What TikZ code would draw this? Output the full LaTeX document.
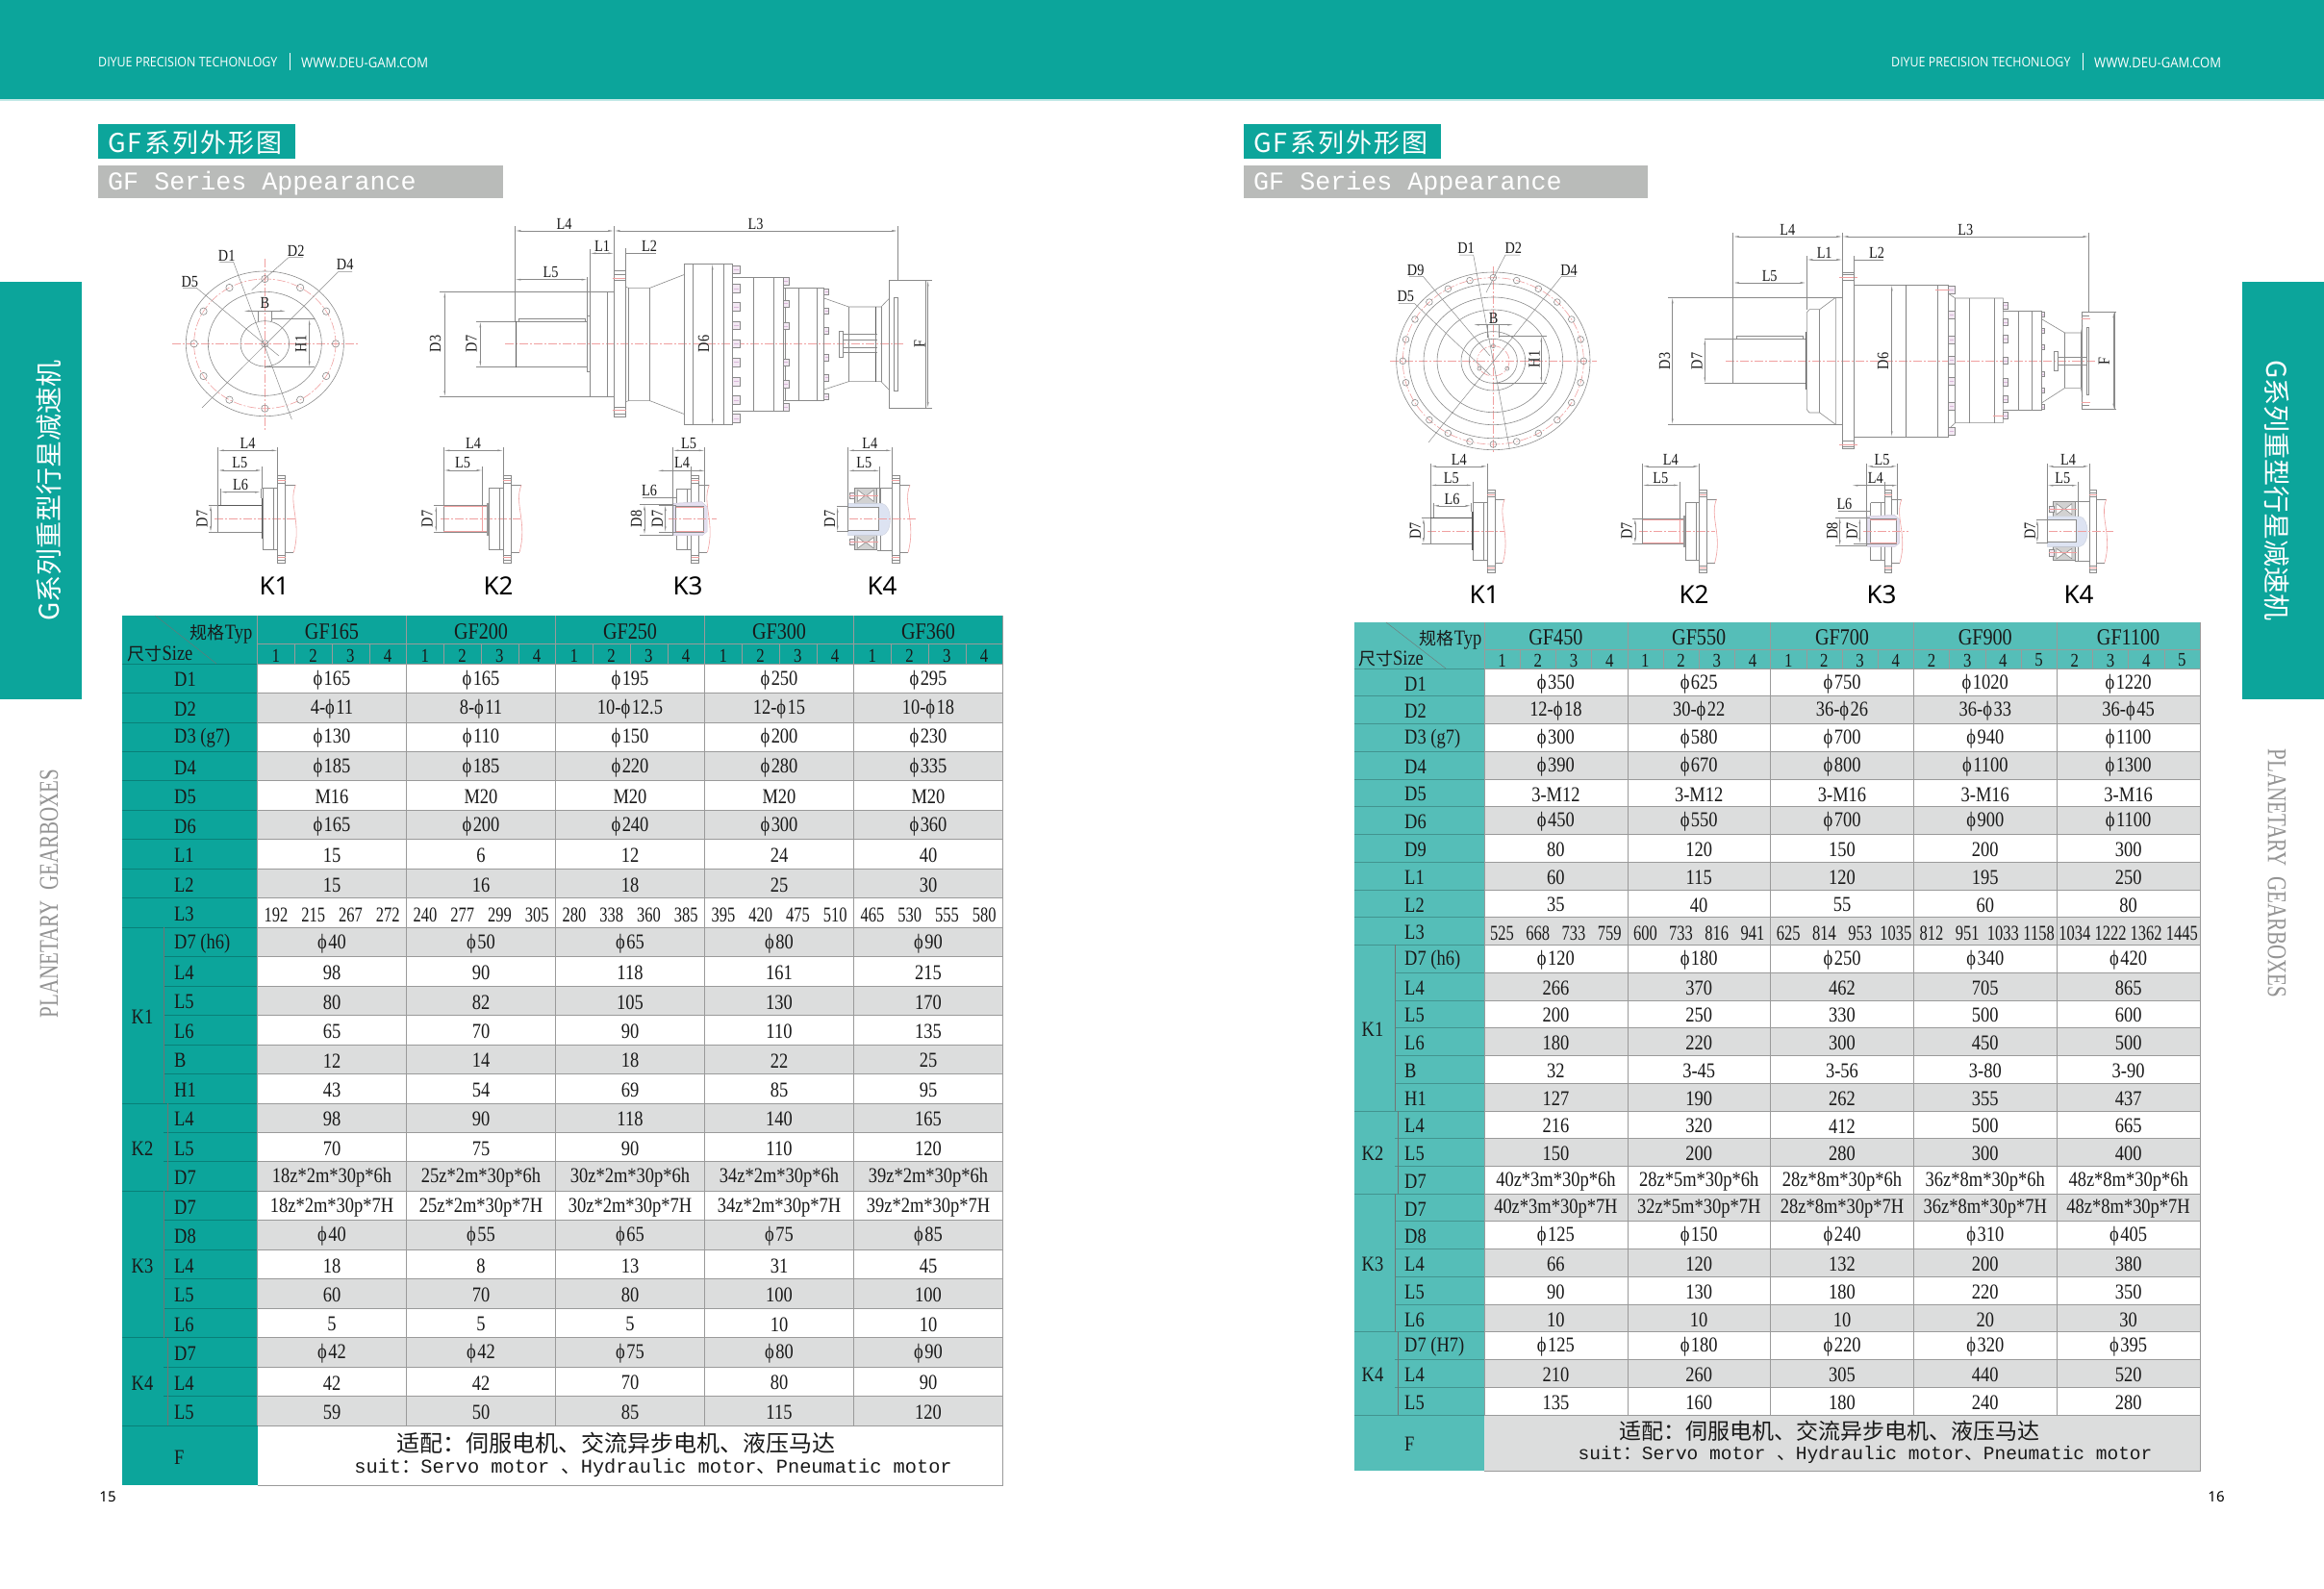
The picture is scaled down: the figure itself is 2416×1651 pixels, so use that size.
\documentclass[tikz,border=0pt]{standalone}
\usepackage{fontspec}
\setmainfont{Liberation Serif}
\newfontfamily\narrowf[FakeStretch=0.84]{Liberation Serif}
\newfontfamily\tightf[FakeStretch=0.75]{Liberation Serif}
\newfontfamily\cjkf{Noto Sans CJK SC}
\newfontfamily\cjkwide[LetterSpace=8]{Noto Sans CJK SC}
\newfontfamily\monof{Liberation Mono}
\newfontfamily\bandf[FakeStretch=0.9]{Open Sans}
\newfontfamily\kf{Noto Sans}
\usetikzlibrary{arrows.meta}
\newcommand{\fsz}[1]{\fontsize{#1}{#1}\selectfont}
\newcommand{\ph}{ϕ\kern1.5pt}
\definecolor{bandteal}{HTML}{0CA59B}
\definecolor{softteal}{HTML}{55BEB8}
\definecolor{cellgray}{HTML}{DCDDDD}
\definecolor{titlegray}{HTML}{B9BBB9}
\definecolor{gridgray}{HTML}{9A9A9A}
\definecolor{partgray}{HTML}{8A8A8A}
\definecolor{axisred}{HTML}{F0A0A0}
\definecolor{boltpink}{HTML}{F3E8F3}
\definecolor{boltmark}{HTML}{D9B8D9}
\definecolor{sleevelilac}{HTML}{E4DFF0}
\definecolor{sleeveblue}{HTML}{DDE3F2}
\tikzset{
  part/.style={draw=partgray,line width=.6pt},
  heavy/.style={draw=black!65,line width=1pt},
  axisline/.style={draw=axisred,line width=.5pt,dash pattern=on 9pt off 2pt on 2pt off 2pt},
  redmark/.style={draw=axisred,line width=.6pt},
  lead/.style={draw=partgray,line width=.5pt},
  dimline/.style={draw=partgray,line width=.5pt,{Latex[length=6pt,width=1.8pt]}-{Latex[length=6pt,width=1.8pt]}},
  dimtext/.style={font=\narrowf\fsz{17},inner sep=0pt,text=black!90},
  boltbox/.style={draw=partgray,fill=boltpink,line width=.4pt},
  cell/.style={font=\narrowf\fsz{22},inner sep=0pt,yshift=-1.5pt,text=black!90},
  tinycell/.style={font=\tightf\fsz{22},inner sep=0pt,text=black!90},
  rowlab/.style={font=\narrowf\fsz{22},inner sep=0pt,yshift=-1.5pt,anchor=west,text=black!90},
  klab/.style={font=\kf\fsz{26},inner sep=0pt,text=black},
  sidetext/.style={font=\cjkf\fsz{28},inner sep=0pt,text=white},
  sidegray/.style={font=\tightf\fsz{28},inner sep=0pt,text=gray!85},
  bandtext/.style={font=\bandf\fsz{14.5},inner sep=0pt,anchor=west,text=white},
}
\newcommand{\bolts}[4]{\foreach \by in {#4} {
    \draw[boltbox] (#1,\by-#3) rectangle (#2,\by+#3);
    \draw[draw=boltmark,line width=.6pt] (#1+3,\by)--(#2-3,\by);
  }}
\newcommand{\gfrows}[1]{
  \foreach \lab/\va/\vb/\vc/\vd/\ve [count=\ri from 0] in {#1} {
    \ifodd\ri\relax
      \fill[cellgray] (\tabxv,{\tabyt+\ri*\tabrh}) rectangle ({\tabxv+5*\tabcw},{\tabyt+(\ri+1)*\tabrh});
    \fi
    \node[rowlab] (lab\ri) at (\tablx,{\tabyt+(\ri+.5)*\tabrh}) {\lab};
    \foreach \cellv [count=\ci from 0] in {\va,\vb,\vc,\vd,\ve}
      \node[cell] (val\ri c\ci) at ({\tabxv+(\ci+.5)*\tabcw},{\tabyt+(\ri+.5)*\tabrh}) {\cellv};
  }
}
\newcommand{\gfgrid}[3]{
  \foreach \ri in {0,...,#1} {
    \draw[gridgray,line width=.7pt] (\tabxv,{\tabyt+\ri*\tabrh}) -- ({\tabxv+5*\tabcw},{\tabyt+\ri*\tabrh});
    \draw[black,draw opacity=.22,line width=.7pt] (\tabxk,{\tabyt+\ri*\tabrh}) -- (\tabxv,{\tabyt+\ri*\tabrh});
  }
  \foreach \ri in {#2}
    \draw[black,draw opacity=.22,line width=.7pt] (\tabxl,{\tabyt+\ri*\tabrh}) -- (\tabxk,{\tabyt+\ri*\tabrh});
  \foreach \ci in {0,...,5}
    \draw[gridgray,line width=.4pt] ({\tabxv+\ci*\tabcw},\tabhy) -- ({\tabxv+\ci*\tabcw},{\tabyt+#1*\tabrh});
  \foreach \ci in {0,...,19}
    \draw[gridgray,line width=.4pt] ({\tabxv+\ci*\tabcw/4},\tabhm) -- ({\tabxv+\ci*\tabcw/4},\tabyt);
  \draw[gridgray,line width=.7pt] (\tabxv,\tabhm) -- ({\tabxv+5*\tabcw},\tabhm);
  \draw[gridgray,line width=.4pt] ({\tabxv+5*\tabcw},\tabhy) -- ({\tabxv+5*\tabcw},#3) -- (\tabxv,#3);
}
\newcommand{\kflange}[1]{
  \draw[part] (#1,163) rectangle (#1+24,435);
  \draw[part] (#1,172)--(#1+24,172) (#1,186)--(#1+24,186) (#1,412)--(#1+24,412) (#1,426)--(#1+24,426);
  \draw[redmark] (#1,179)--(#1+24,179) (#1,419)--(#1+24,419);
  \draw[part] (#1+24,193)--(#1+56,193) (#1+24,403)--(#1+50,403);
  \draw[redmark] (#1+56,193) .. controls (#1+32,250) and (#1+76,310) .. (#1+50,403);
}
\newcommand{\kone}{
  \draw[axisline] (100,298)--(350,298);
  \draw[part] (110,255) rectangle (247,340);
  \draw[heavy] (110,255)--(247,255);
  \draw[part] (250,203)--(297,203) (250,395)--(297,395) (250,203)--(250,395) (283,203)--(283,395);
  \draw[heavy,line width=1.4pt] (248,235)--(248,360);
  \kflange{296}
  \draw[lead] (110,75)--(110,255) (296,75)--(296,163) (247,135)--(247,203) (118,205)--(118,255) (243,205)--(243,235);
  \draw[lead] (80,255)--(110,255) (80,340)--(110,340);
  \draw[dimline] (110,85)--(296,85);
  \draw[dimline] (110,147)--(247,147);
  \draw[dimline] (118,215)--(243,215);
  \draw[dimline] (87,255)--(87,340);
  \node[dimtext] (konelfour) at (203,62) {L4};
  \node[dimtext] (konelfive) at (178,123) {L5};
  \node[dimtext] (konelsix) at (180,193) {L6};
  \node[dimtext,rotate=90] (konedseven) at (60,298) {D7};
}
\newcommand{\ktwo}{
  \draw[axisline] (804,298)--(1052,298);
  \draw[part] (814,257) rectangle (948,340);
  \draw[redmark] (814,260)--(948,260) (814,337)--(948,337) (935,260)--(935,337);
  \draw[part] (955,203)--(1001,203) (955,395)--(1001,395) (955,203)--(955,395) (988,203)--(988,395);
  \draw[heavy,line width=2pt,draw=gray!80] (952,248)--(952,352);
  \kflange{1000}
  \draw[lead] (814,75)--(814,257) (1000,75)--(1000,163) (935,135)--(935,257);
  \draw[lead] (782,257)--(814,257) (782,340)--(814,340);
  \draw[dimline] (814,85)--(1000,85);
  \draw[dimline] (814,147)--(935,147);
  \draw[dimline] (790,257)--(790,340);
  \node[dimtext] (ktwolfour) at (906,62) {L4};
  \node[dimtext] (ktwolfive) at (873,123) {L5};
  \node[dimtext,rotate=90] (ktwodseven) at (762,298) {D7};
}
\newcommand{\kthree}{
  \draw[part] (250,205)--(296,205) (250,395)--(296,395) (250,205)--(250,248) (250,350)--(250,395) (283,205)--(283,248) (283,350)--(283,395);
  \kflange{296}
  \draw[draw=sleevelilac!80!gray,fill=sleevelilac,line width=.5pt] (240,250)--(328,245)--(345,260)--(345,338)--(330,350)--(240,350)--cycle;
  \draw[part,fill=white] (248,258)--(335,258)--(335,340)--(248,340)--cycle;
  \draw[redmark] (248,262)--(335,262) (248,336)--(335,336);
  \draw[axisline] (225,298)--(375,298);
  \draw[lead] (238,75)--(238,350) (338,75)--(338,245) (295,135)--(295,163);
  \draw[lead] (135,253)--(240,253) (135,348)--(240,348) (195,255)--(248,255) (195,340)--(248,340);
  \draw[lead] (145,232)--(250,232);
  \draw[dimline] (238,85)--(338,85);
  \draw[dimline] (190,148)--(340,148);
  \draw[dimline] (150,253)--(150,348);
  \draw[dimline] (215,255)--(215,340);
  \node[dimtext] (kthreelfive) at (288,62) {L5};
  \node[dimtext] (kthreelfour) at (267,123) {L4};
  \node[dimtext] (kthreelsix) at (165,210) {L6};
  \node[dimtext,rotate=90] (kthreedeight) at (125,298) {D8};
  \node[dimtext,rotate=90] (kthreedseven) at (190,298) {D7};
}
\newcommand{\kfour}{
  \draw[part] (875,202)--(922,202) (875,397)--(922,397) (885,202)--(885,397);
  \kflange{922}
  \draw[part,fill=gray!35] (805,202) rectangle (875,250);
  \draw[part,fill=gray!35] (805,350) rectangle (875,395);
  \draw[part,fill=white] (815,208)--(838,226)--(815,244)--cycle (865,208)--(842,226)--(865,244)--cycle;
  \draw[part,fill=white] (815,356)--(838,373)--(815,390)--cycle (865,356)--(842,373)--(865,390)--cycle;
  \draw[draw=sleeveblue!85!gray,fill=sleeveblue,line width=.5pt] (785,250)--(890,250) .. controls (925,255) and (925,345) .. (890,350)--(785,350)--cycle;
  \draw[part,fill=white] (785,262)--(880,262)--(880,335)--(785,335)--cycle;
  \draw[boltbox] (790,217) rectangle (805,235);
  \draw[boltbox] (790,360) rectangle (805,380);
  \draw[redmark] (790,226)--(880,226) (790,370)--(880,370);
  \draw[axisline] (790,298)--(1000,298);
  \draw[lead] (785,75)--(785,340) (922,75)--(922,163) (884,135)--(884,250);
  \draw[lead] (750,260)--(785,260) (750,338)--(785,338);
  \draw[dimline] (785,85)--(922,85);
  \draw[dimline] (785,148)--(884,148);
  \draw[dimline] (752,260)--(752,338);
  \node[dimtext] (kfourlfour) at (853,62) {L4};
  \node[dimtext] (kfourlfive) at (835,123) {L5};
  \node[dimtext,rotate=90] (kfourdseven) at (728,298) {D7};
}
\begin{document}
\begin{tikzpicture}[x=1pt,y=-1pt]
  \useasboundingbox (0,0) rectangle (2416,1651);
  \fill[white] (0,0) rectangle (2416,1651);

  \fill[bandteal] (0,0) rectangle (2416,103);
  \fill[bandteal!25] (0,103) rectangle (2416,105);
  \node[bandtext,font=\bandf\fsz{13.8}] (companyl) at (102,65) {DIYUE PRECISION TECHONLOGY};
  \draw[white,line width=.5pt] (301,55) -- (301,73);
  \node[bandtext] (webl) at (313,65) {WWW.DEU-GAM.COM};
  \node[bandtext,font=\bandf\fsz{13.8}] (companyr) at (1966,65) {DIYUE PRECISION TECHONLOGY};
  \draw[white,line width=.5pt] (2165,55) -- (2165,73);
  \node[bandtext] (webr) at (2177,65) {WWW.DEU-GAM.COM};

  \foreach \tx/\bx/\bxx/\gxx in {112/102/307/523,1303/1293/1498/1713} {
    \fill[bandteal] (\bx,129) rectangle (\bxx,165);
    \fill[titlegray] (\bx,172) rectangle (\gxx,206);
    \node[font=\cjkwide\fsz{27},text=white,anchor=west,inner sep=0pt] (title\bx) at (\tx,148) {GF系列外形图};
    \node[font=\monof\fsz{26.7},text=white,anchor=west,inner sep=0pt] (sub\bx) at (\tx,191) {GF Series Appearance};
  }

  \fill[bandteal] (0,293) rectangle (85,727);
  \fill[bandteal] (2331,293) rectangle (2416,727);
  \node[sidetext,rotate=90] (sidel) at (51,510) {G系列重型行星减速机};
  \node[sidetext,rotate=-90] (sider) at (2367,510) {G系列重型行星减速机};
  \node[sidegray,rotate=90] (grayl) at (51,929) {PLANETARY\ \ GEARBOXES};
  \node[sidegray,rotate=-90] (grayr) at (2367,908) {PLANETARY\ \ GEARBOXES};
  \node[font=\kf\fsz{15},inner sep=0pt] (pagel) at (112,1556) {15};
  \node[font=\kf\fsz{15},inner sep=0pt] (pager) at (2304,1556) {16};

  \begin{scope}
    \def\tabxl{127}\def\tabxk{170}\def\tablx{181}\def\tabxv{267.5}\def\tabcw{155}
    \def\tabyt{690}\def\tabrh{30.46}\def\tabhy{640}\def\tabhm{669}
    \fill[bandteal] (\tabxl,\tabhy) rectangle ({\tabxv+5*\tabcw},\tabyt);
    \fill[bandteal] (\tabxl,\tabyt) rectangle (\tabxv,1544);
    \gfrows{D1/\ph165/\ph165/\ph195/\ph250/\ph295,
      D2/4-\ph11/8-\ph11/10-\ph12.5/12-\ph15/10-\ph18,
      D3 (g7)/\ph130/\ph110/\ph150/\ph200/\ph230,
      D4/\ph185/\ph185/\ph220/\ph280/\ph335,
      D5/M16/M20/M20/M20/M20,
      D6/\ph165/\ph200/\ph240/\ph300/\ph360,
      L1/15/6/12/24/40,
      L2/15/16/18/25/30,
      L3/~/~/~/~/~,
      D7 (h6)/\ph40/\ph50/\ph65/\ph80/\ph90,
      L4/98/90/118/161/215,
      L5/80/82/105/130/170,
      L6/65/70/90/110/135,
      B/12/14/18/22/25,
      H1/43/54/69/85/95,
      L4/98/90/118/140/165,
      L5/70/75/90/110/120,
      D7/18z*2m*30p*6h/25z*2m*30p*6h/30z*2m*30p*6h/34z*2m*30p*6h/39z*2m*30p*6h,
      D7/18z*2m*30p*7H/25z*2m*30p*7H/30z*2m*30p*7H/34z*2m*30p*7H/39z*2m*30p*7H,
      D8/\ph40/\ph55/\ph65/\ph75/\ph85,
      L4/18/8/13/31/45,
      L5/60/70/80/100/100,
      L6/5/5/5/10/10,
      D7/\ph42/\ph42/\ph75/\ph80/\ph90,
      L4/42/42/70/80/90,
      L5/59/50/85/115/120}
    \foreach \cellv [count=\ci from 0] in {192,215,267,272,240,277,299,305,280,338,360,385,395,420,475,510,465,530,555,580}
      \node[tinycell] (lthree\ci) at ({\tabxv+(\ci+.5)*\tabcw/4},{\tabyt+8.58*\tabrh}) {\cellv};
    \gfgrid{26}{0,...,9,15,18,23,26}{1544}
    \draw[black!55,line width=.4pt] (\tabxk,{\tabyt+9*\tabrh}) -- (\tabxk,{\tabyt+15*\tabrh});
    \draw[black!55,line width=.4pt] (174,{\tabyt+15*\tabrh}) -- (174,{\tabyt+18*\tabrh});
    \draw[black!55,line width=.4pt] (\tabxk,{\tabyt+18*\tabrh}) -- (\tabxk,{\tabyt+23*\tabrh});
    \draw[black!55,line width=.4pt] (174,{\tabyt+23*\tabrh}) -- (174,{\tabyt+26*\tabrh});
    \draw[black!55,line width=.4pt] (161.6,640) -- (225,690);
    \node[cell] (kone) at (148,{\tabyt+12*\tabrh}) {K1};
    \node[cell] (ktwo) at (148,{\tabyt+16.5*\tabrh}) {K2};
    \node[cell] (kthree) at (148,{\tabyt+20.5*\tabrh}) {K3};
    \node[cell] (kfour) at (148,{\tabyt+24.5*\tabrh}) {K4};
    \node[rowlab] (rowf) at (\tablx,1514) {F};
    \node[cell] (typel) at (230,658) {{\cjkf\fsz{18}规格}Typ};
    \node[cell] (sizel) at (166.5,678) {{\cjkf\fsz{18}尺寸}Size};
    \foreach \gfname [count=\ci from 0] in {GF165,GF200,GF250,GF300,GF360}
      \node[cell,font=\narrowf\fsz{24}] (headl\ci) at ({\tabxv+(\ci+.5)*\tabcw},655) {\gfname};
    \foreach \ci in {0,...,19} {
      \pgfmathtruncatemacro\subn{mod(\ci,4)+1}
      \node[cell,font=\narrowf\fsz{20}] (subl\ci) at ({\tabxv+(\ci+.5)*\tabcw/4},680) {\subn};
    }
    \node[font=\cjkf\fsz{24},inner sep=0pt,text=black!90] (fitl) at (640,1500) {适配：伺服电机、交流异步电机、液压马达};
    \node[font=\monof\fsz{20.3},inner sep=0pt,text=black!90] (suitl) at (679,1526) {suit{\cjkf：}Servo motor {\cjkf 、}Hydraulic motor{\cjkf 、}Pneumatic motor};
  \end{scope}

  \begin{scope}
    \def\tabxl{1408}\def\tabxk{1450}\def\tablx{1460}\def\tabxv{1543}\def\tabcw{148.8}
    \def\tabyt{695}\def\tabrh{28.74}\def\tabhy{647}\def\tabhm{675}
    \fill[softteal] (\tabxl,\tabhy) rectangle ({\tabxv+5*\tabcw},\tabyt);
    \fill[softteal] (\tabxl,\tabyt) rectangle (\tabxv,1529);
    \fill[cellgray] (\tabxv,1471) rectangle ({\tabxv+5*\tabcw},1529);
    \gfrows{D1/\ph350/\ph625/\ph750/\ph1020/\ph1220,
      D2/12-\ph18/30-\ph22/36-\ph26/36-\ph33/36-\ph45,
      D3 (g7)/\ph300/\ph580/\ph700/\ph940/\ph1100,
      D4/\ph390/\ph670/\ph800/\ph1100/\ph1300,
      D5/3-M12/3-M12/3-M16/3-M16/3-M16,
      D6/\ph450/\ph550/\ph700/\ph900/\ph1100,
      D9/80/120/150/200/300,
      L1/60/115/120/195/250,
      L2/35/40/55/60/80,
      L3/~/~/~/~/~,
      D7 (h6)/\ph120/\ph180/\ph250/\ph340/\ph420,
      L4/266/370/462/705/865,
      L5/200/250/330/500/600,
      L6/180/220/300/450/500,
      B/32/3-45/3-56/3-80/3-90,
      H1/127/190/262/355/437,
      L4/216/320/412/500/665,
      L5/150/200/280/300/400,
      D7/40z*3m*30p*6h/28z*5m*30p*6h/28z*8m*30p*6h/36z*8m*30p*6h/48z*8m*30p*6h,
      D7/40z*3m*30p*7H/32z*5m*30p*7H/28z*8m*30p*7H/36z*8m*30p*7H/48z*8m*30p*7H,
      D8/\ph125/\ph150/\ph240/\ph310/\ph405,
      L4/66/120/132/200/380,
      L5/90/130/180/220/350,
      L6/10/10/10/20/30,
      D7 (H7)/\ph125/\ph180/\ph220/\ph320/\ph395,
      L4/210/260/305/440/520,
      L5/135/160/180/240/280}
    \foreach \cellv [count=\ci from 0] in {525,668,733,759,600,733,816,941,625,814,953,1035,812,951,1033,1158,1034,1222,1362,1445}
      \node[tinycell] (lthree\ci) at ({\tabxv+(\ci+.5)*\tabcw/4},{\tabyt+9.58*\tabrh}) {\cellv};
    \gfgrid{27}{0,...,10,16,19,24,27}{1529}
    \draw[black!55,line width=.4pt] (\tabxk,{\tabyt+10*\tabrh}) -- (\tabxk,{\tabyt+16*\tabrh});
    \draw[black!55,line width=.4pt] (1453,{\tabyt+16*\tabrh}) -- (1453,{\tabyt+19*\tabrh});
    \draw[black!55,line width=.4pt] (\tabxk,{\tabyt+19*\tabrh}) -- (\tabxk,{\tabyt+24*\tabrh});
    \draw[black!55,line width=.4pt] (1453,{\tabyt+24*\tabrh}) -- (1453,{\tabyt+27*\tabrh});
    \draw[black!55,line width=.4pt] (1441,647) -- (1503,695);
    \node[cell] (kone) at (1427,{\tabyt+13*\tabrh}) {K1};
    \node[cell] (ktwo) at (1427,{\tabyt+17.5*\tabrh}) {K2};
    \node[cell] (kthree) at (1427,{\tabyt+21.5*\tabrh}) {K3};
    \node[cell] (kfour) at (1427,{\tabyt+25.5*\tabrh}) {K4};
    \node[rowlab] (rowf) at (\tablx,1500) {F};
    \node[cell] (typer) at (1508,664) {{\cjkf\fsz{18}规格}Typ};
    \node[cell] (sizer) at (1446,683) {{\cjkf\fsz{18}尺寸}Size};
    \foreach \gfname [count=\ci from 0] in {GF450,GF550,GF700,GF900,GF1100}
      \node[cell,font=\narrowf\fsz{24}] (headr\ci) at ({\tabxv+(\ci+.5)*\tabcw},661) {\gfname};
    \foreach \subn [count=\ci from 0] in {1,2,3,4,1,2,3,4,1,2,3,4,2,3,4,5,2,3,4,5}
      \node[cell,font=\narrowf\fsz{20}] (subr\ci) at ({\tabxv+(\ci+.5)*\tabcw/4},685) {\subn};
    \node[font=\cjkf\fsz{23},inner sep=0pt,text=black!90] (fitr) at (1902,1488) {适配：伺服电机、交流异步电机、液压马达};
    \node[font=\monof\fsz{19.5},inner sep=0pt,text=black!90] (suitr) at (1939,1512) {suit{\cjkf：}Servo motor {\cjkf 、}Hydraulic motor{\cjkf 、}Pneumatic motor};
  \end{scope}

  \begin{scope}[shift={(170,240)},scale=1/3]
    \coordinate (hubl) at (316,352);
    \draw[axisline] (28,352) -- (605,352);
    \draw[axisline] (316,88) -- (316,620);
    \draw[part] (hubl) circle [x radius=246,y radius=226];
    \draw[part] (hubl) circle [x radius=177,y radius=162];
    \draw[part] (hubl) circle [x radius=76,y radius=71];
    \draw[redmark,dash pattern=on 9pt off 2pt on 2pt off 2pt] (hubl) circle [x radius=221,y radius=202];
    \draw[part] (hubl) circle [radius=11];
    \foreach \ang in {0,30,...,330}
      \draw[part] ({316+221*cos(\ang)},{352+202*sin(\ang)}) circle [radius=11];
    \draw[lead] (175,97) -- (218,97) -- (400,588);
    \draw[lead] (435,83) -- (390,83) -- (275,185);
    \draw[lead] (588,128) -- (545,128) -- (120,552);
    \draw[lead] (60,178) -- (103,178) -- (360,390);
    \draw[dimline] (250,250) -- (382,250);
    \draw[lead] (295,250) -- (295,283) (338,250) -- (338,283);
    \draw[lead] (338,275) -- (470,275) (316,425) -- (470,425);
    \draw[dimline] (455,275) -- (455,425);
    \node[dimtext] (dleft) at (197,77) {D1};
    \node[dimtext] (dtwo) at (413,62) {D2};
    \node[dimtext] (dfour) at (566,106) {D4};
    \node[dimtext] (dfive) at (82,158) {D5};
    \node[dimtext] (bwidth) at (316,226) {B};
    \node[dimtext,rotate=90] (hone) at (428,352) {H1};
  \end{scope}

  \begin{scope}[shift={(440,220)},scale=1/3]
    \draw[axisline] (255,412) -- (1503,412);
    \draw[part] (288,343) rectangle (512,485);
    \draw[part] (298,335) rectangle (506,343);
    \draw[heavy] (288,343) -- (288,485);
    \draw[part] (512,325) -- (520,325) -- (520,500) -- (512,500) -- cycle;
    \draw[part] (520,250) -- (595,250) (520,577) -- (595,577) (520,250) -- (520,577) (575,250) -- (575,577);
    \draw[part] (595,185) rectangle (632,640);
    \draw[part] (595,195) -- (632,195) (595,215) -- (632,215) (595,610) -- (632,610) (595,632) -- (632,632);
    \draw[redmark] (590,207) -- (632,207) (590,620) -- (632,620);
    \draw[part] (632,235) -- (640,238) -- (707,238) -- (815,196) (632,593) -- (640,590) -- (707,590) -- (815,632);
    \draw[part] (640,238) -- (640,590) (707,238) -- (707,590);
    \draw[part] (815,163) rectangle (965,665);
    \draw[part] (842,163) -- (842,665) (937,163) -- (937,665);
    \draw[part] (965,205) -- (1123,205) -- (1123,622) -- (965,622) -- cycle;
    \draw[part] (1030,205) -- (1030,622) (1093,205) -- (1093,622);
    \draw[part] (1123,238) -- (1250,238) -- (1250,590) -- (1123,590);
    \draw[part] (1130,238) -- (1130,590) (1172,238) -- (1172,590) (1228,238) -- (1228,590);
    \draw[part] (1250,270) -- (1327,297) -- (1428,297) -- (1452,272);
    \draw[part] (1250,555) -- (1327,530) -- (1428,530) -- (1452,555);
    \draw[part] (1327,297) -- (1327,530) (1428,297) -- (1428,530);
    \draw[heavy] (1412,297) -- (1412,530);
    \draw[part] (1452,214) rectangle (1566,612);
    \draw[part] (1467,267) rectangle (1480,560);
    \draw[part] (1297,372) rectangle (1310,455);
    \draw[part] (1310,382) -- (1415,382) (1310,400) -- (1415,400) (1310,424) -- (1415,424) (1310,440) -- (1415,440);
    \draw[heavy,draw=gray] (1412,382) -- (1412,440);
    \bolts{965}{987}{13}{181,240,297,355,412,470,530,588,645}
    \bolts{1123}{1140}{11}{217,287,357,470,538,610}
    \bolts{1250}{1265}{10}{250,310,372,455,518,577}
    \draw[lead] (286,45) -- (286,343) (595,45) -- (595,185) (1480,45) -- (1480,214);
    \draw[lead] (512,205) -- (512,325) (520,118) -- (520,250) (632,115) -- (632,235);
    \draw[lead] (50,250) -- (520,250) (50,577) -- (520,577) (165,343) -- (288,343) (165,485) -- (288,485);
    \draw[lead] (632,130) -- (725,130) (1452,214) -- (1588,214) (1452,612) -- (1588,612);
    \draw[dimline] (286,60) -- (595,60);
    \draw[dimline] (595,60) -- (1480,60);
    \draw[dimline] (286,212) -- (512,212);
    \draw[dimline] (520,130) -- (595,130);
    \draw[dimline] (67,250) -- (67,577);
    \draw[dimline] (178,343) -- (178,485);
    \draw[dimline] (902,163) -- (902,665);
    \draw[dimline] (1574,214) -- (1574,612);
    \node[dimtext] (lfour) at (440,38) {L4};
    \node[dimtext] (lthreemain) at (1037,38) {L3};
    \node[dimtext] (lfive) at (398,188) {L5};
    \node[dimtext] (lone) at (558,107) {L1};
    \node[dimtext] (ltwo) at (705,107) {L2};
    \node[dimtext,rotate=90] (dthree) at (38,412) {D3};
    \node[dimtext,rotate=90] (dseven) at (150,412) {D7};
    \node[dimtext,rotate=90] (dsix) at (875,412) {D6};
    \node[dimtext,rotate=90] (fsize) at (1548,412) {F};
  \end{scope}

  \begin{scope}[shift={(190,440)},scale=1/3]
    \kone
    \ktwo
  \end{scope}
  \begin{scope}[shift={(620,440)},scale=1/3]
    \kthree
    \kfour
  \end{scope}
  \node[klab] (labkonel) at (285,609) {K1};
  \node[klab] (labktwol) at (518,609) {K2};
  \node[klab] (labkthreel) at (715,609) {K3};
  \node[klab] (labkfourl) at (917,609) {K4};

  \begin{scope}[shift={(1430,230)},scale=1/3]
    \coordinate (hubr) at (367,436);
    \draw[axisline] (45,436) -- (690,436);
    \draw[axisline] (367,140) -- (367,720);
    \foreach \rx/\ry in {302/277,263/241,217/199,175/160,100/92,75/69}
      \draw[part] (hubr) circle [x radius=\rx,y radius=\ry];
    \draw[redmark,dash pattern=on 9pt off 2pt on 2pt off 2pt] (hubr) circle [x radius=282,y radius=260];
    \draw[redmark,dash pattern=on 9pt off 2pt on 2pt off 2pt] (hubr) circle [x radius=50,y radius=47];
    \foreach \ang in {0,15,...,345}
      \draw[part] ({367+282*cos(\ang)},{436+260*sin(\ang)}) circle [radius=10];
    \foreach \ang in {90,210,330}
      \draw[part] ({367+50*cos(\ang)},{436-47*sin(\ang)}) circle [radius=6];
    \draw[lead] (262,105) -- (305,105) -- (418,710);
    \draw[lead] (450,105) -- (405,105) -- (345,222);
    \draw[lead] (625,172) -- (580,172) -- (165,690);
    \draw[lead] (105,172) -- (148,172) -- (357,420);
    \draw[lead] (72,257) -- (122,257) -- (358,480);
    \draw[dimline] (305,323) -- (430,323);
    \draw[lead] (350,323) -- (350,363) (385,323) -- (385,363);
    \draw[lead] (385,358) -- (535,358) (367,505) -- (535,505);
    \draw[dimline] (517,358) -- (517,505);
    \node[dimtext] (done) at (282,85) {D1};
    \node[dimtext] (dtwo) at (430,85) {D2};
    \node[dimtext] (dfour) at (603,152) {D4};
    \node[dimtext] (dnine) at (125,152) {D9};
    \node[dimtext] (dfive) at (94,235) {D5};
    \node[dimtext] (bwidth) at (368,302) {B};
    \node[dimtext,rotate=90] (hone) at (495,430) {H1};
  \end{scope}

  \begin{scope}[shift={(1690,220)},scale=1/3]
    \draw[axisline] (312,466) -- (1468,466);
    \draw[part] (335,397) rectangle (562,535);
    \draw[part] (345,388) rectangle (553,397);
    \draw[heavy] (563,375) -- (563,555);
    \draw[part] (655,268) -- (605,305) -- (573,305) -- (565,315) -- (565,617) -- (573,627) -- (605,627) -- (655,664) -- cycle;
    \draw[part] (605,305) -- (605,627) (655,268) -- (676,268) (655,664) -- (676,664);
    \draw[part] (676,190) rectangle (712,740);
    \draw[part] (676,197) -- (712,197) (676,215) -- (712,215) (676,716) -- (712,716) (676,733) -- (712,733);
    \draw[redmark] (665,205) -- (722,205) (665,726) -- (722,726);
    \draw[part] (712,229) rectangle (1005,703);
    \draw[heavy,draw=gray] (874,229) -- (874,703);
    \draw[part] (974,229) -- (974,703);
    \draw[part] (1005,255) -- (1028,270) -- (1177,270) -- (1177,659) -- (1028,659) -- (1005,680);
    \draw[part] (1028,270) -- (1028,659) (1072,270) -- (1072,659) (1150,270) -- (1150,659);
    \draw[part] (1177,310) -- (1297,310) -- (1297,620) -- (1177,620);
    \draw[part] (1225,310) -- (1225,620) (1267,310) -- (1267,620);
    \draw[part] (1297,335) -- (1370,378) -- (1420,378) -- (1425,355);
    \draw[part] (1297,597) -- (1370,550) -- (1420,550) -- (1425,577);
    \draw[part] (1370,378) -- (1370,550) (1420,378) -- (1420,550);
    \draw[part] (1423,313) rectangle (1524,617);
    \draw[part] (1438,360) rectangle (1445,570);
    \draw[part] (1423,326) -- (1445,326) (1423,605) -- (1445,605);
    \draw[redmark] (1422,595) -- (1448,595) (1422,335) -- (1448,335);
    \draw[part] (1335,437) rectangle (1347,495);
    \draw[part] (1347,455) -- (1440,455) (1347,477) -- (1440,477);
    \bolts{1007}{1027}{12}{245,322,400,464,530,607,685}
    \bolts{1177}{1193}{11}{293,345,397,465,532,585,636}
    \bolts{1297}{1307}{8}{321,371,423,507,558,609}
    \draw[redmark] (965,245) -- (1010,245) (1145,636) -- (1180,636);
    \draw[lead] (335,65) -- (335,397) (676,65) -- (676,190) (1445,65) -- (1445,313);
    \draw[lead] (565,138) -- (565,305) (712,138) -- (712,229);
    \draw[lead] (132,268) -- (655,268) (132,664) -- (655,664) (245,397) -- (335,397) (245,535) -- (335,535);
    \draw[lead] (712,150) -- (803,150) (1423,313) -- (1530,313) (1423,617) -- (1530,617);
    \draw[dimline] (335,78) -- (676,78);
    \draw[dimline] (676,78) -- (1445,78);
    \draw[dimline] (335,222) -- (563,222);
    \draw[dimline] (565,150) -- (676,150);
    \draw[dimline] (146,268) -- (146,664);
    \draw[dimline] (247,397) -- (247,535);
    \draw[dimline] (830,229) -- (830,703);
    \draw[dimline] (1522,313) -- (1522,617);
    \node[dimtext] (lfour) at (505,57) {L4};
    \node[dimtext] (lthreemain) at (1060,57) {L3};
    \node[dimtext] (lfive) at (449,201) {L5};
    \node[dimtext] (lone) at (620,128) {L1};
    \node[dimtext] (ltwo) at (783,128) {L2};
    \node[dimtext,rotate=90] (dthree) at (122,466) {D3};
    \node[dimtext,rotate=90] (dseven) at (222,466) {D7};
    \node[dimtext,rotate=90] (dsix) at (803,466) {D6};
    \node[dimtext,rotate=90] (fsize) at (1492,466) {F};
  \end{scope}

  \begin{scope}[shift={(1452.2,458.1)},x=.3183pt,y=-.315pt]
    \kone
  \end{scope}
  \begin{scope}[shift={(1448.4,458.1)},x=.3183pt,y=-.315pt]
    \ktwo
  \end{scope}
  \begin{scope}[shift={(1864.9,458.1)},x=.3183pt,y=-.315pt]
    \kthree
  \end{scope}
  \begin{scope}[shift={(1878.5,458.1)},x=.3183pt,y=-.315pt]
    \kfour
  \end{scope}
  \node[klab] (labkoner) at (1543,618) {K1};
  \node[klab] (labktwor) at (1761,618) {K2};
  \node[klab] (labkthreer) at (1956,618) {K3};
  \node[klab] (labkfourr) at (2161,618) {K4};
\end{tikzpicture}
\end{document}
